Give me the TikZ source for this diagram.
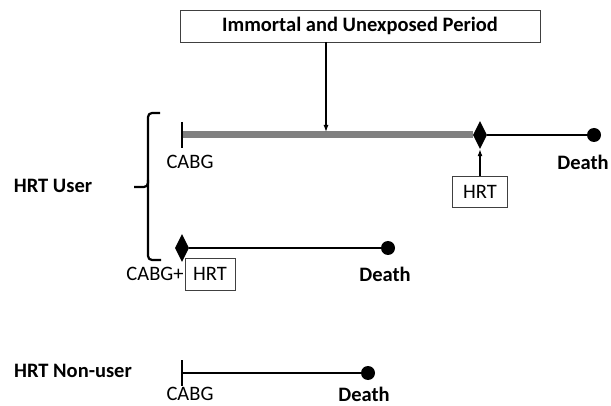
\documentclass[tikz,border=0pt]{standalone}
\usepackage{fontspec}
\setmainfont{Carlito}
\usetikzlibrary{shapes.geometric, arrows.meta}

\tikzset{
    txt/.style={inner sep=0pt, font=\fontsize{20.5}{24}\selectfont},
    boldtxt/.style={txt, font=\fontsize{20.5}{24}\selectfont\bfseries},
    labelbox/.style={draw=black!75, line width=0.8pt, inner sep=0pt, font=\fontsize{20.5}{24}\selectfont},
    start/.style={diamond, aspect=0.5, fill=black, inner sep=0pt, minimum width=14pt, minimum height=28pt},
    finish/.style={circle, fill=black, inner sep=0pt, minimum size=14pt},
    timeline/.style={line width=1.6pt},
    tick/.style={line width=1.6pt},
    pointer/.style={line width=1.2pt, -{Latex[length=7pt, width=5pt]}}
}

\begin{document}
\begin{tikzpicture}[x=1pt, y=-1pt]
        \useasboundingbox (0,0) rectangle (611,406);

        % Title box and its arrow
        \node[labelbox, minimum width=360pt, minimum height=32pt, font=\fontsize{20.5}{24}\selectfont\bfseries] (period) at (360,26) {Immortal and Unexposed Period};
        \coordinate (periodOut) at (326,42);
        \coordinate (periodIn) at (326,132);

        % HRT user, delayed start
        \coordinate (cabgA) at (182,135);
        \node[start] (hrtA) at (480,135) {};
        \node[finish] (deathA) at (594,135) {};
        \draw[line width=7pt, gray] (cabgA) -- (hrtA.west);
        \draw[tick] (182,122) -- (182,148);
        \draw[timeline] (hrtA) -- (deathA);
        \node[txt] (cabgAtext) at (190,162) {CABG};
        \node[boldtxt] (deathAtext) at (583,162) {Death};
        \node[labelbox, minimum width=55pt, minimum height=31pt] (hrtAbox) at (480,192) {HRT};
        \draw[pointer] (hrtAbox.north) -- (hrtA.south);
        \draw[pointer] (periodOut) -- (periodIn);

        % HRT user, start at CABG
        \node[start] (hrtB) at (182,248) {};
        \node[finish] (deathB) at (388,248) {};
        \draw[timeline] (hrtB) -- (deathB);
        \node[txt] (cabgBtext) at (155,274) {CABG+};
        \node[labelbox, minimum width=50pt, minimum height=32pt] (hrtBbox) at (210,274) {HRT};
        \node[boldtxt] (deathBtext) at (385,274) {Death};

        % Brace
        \draw[line width=2.2pt, rounded corners=4pt] (160,113) -- (148,113) -- (148,187) -- (134,187);
        \draw[line width=2.2pt, rounded corners=4pt] (148,180) -- (148,260) -- (161,260);
        \node[boldtxt] (user) at (53,186) {HRT User};

        % HRT non-user
        \coordinate (cabgC) at (182,373);
        \node[finish] (deathC) at (368,373) {};
        \draw[timeline] (cabgC) -- (deathC);
        \draw[tick] (182,360) -- (182,386);
        \node[txt] (cabgCtext) at (190,394) {CABG};
        \node[boldtxt] (deathCtext) at (364,394) {Death};
        \node[boldtxt] (nonuser) at (73,371) {HRT Non-user};
    \end{tikzpicture}
\end{document}
